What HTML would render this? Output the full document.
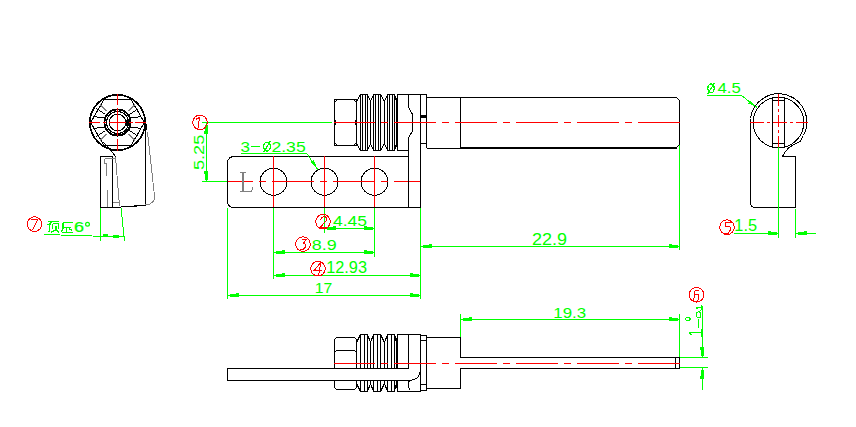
<!DOCTYPE html>
<html><head><meta charset="utf-8"><style>
html,body{margin:0;padding:0;background:#fff;width:856px;height:427px;overflow:hidden}
svg{display:block}
text{font-family:"Liberation Sans",sans-serif}
</style></head><body>
<svg width="856" height="427" viewBox="0 0 856 427" shape-rendering="crispEdges">
<rect width="856" height="427" fill="#fff"/>
<circle cx="117.5" cy="122.5" r="28" stroke="#000000" stroke-width="1" fill="none" />
<circle cx="117.5" cy="122.5" r="27.3" stroke="#000000" stroke-width="1" fill="none" />
<path d="M144.3 122.5 L130.9 145.7 L104.1 145.7 L90.7 122.5 L104.1 99.3 L130.9 99.3 Z" stroke="#000000" stroke-width="1" fill="none" />
<circle cx="117.5" cy="122.5" r="13.5" stroke="#000000" stroke-width="1" fill="none" />
<circle cx="117.5" cy="122.5" r="12.6" stroke="#000000" stroke-width="1" fill="none" />
<circle cx="117.5" cy="122.5" r="11" stroke="#000000" stroke-width="1" fill="none" />
<circle cx="117.5" cy="122.5" r="8.3" stroke="#000000" stroke-width="1" fill="none" />
<line x1="129.5" y1="114.5" x2="138.5" y2="108.5" stroke="#000000" stroke-width="1" />
<line x1="130.5" y1="118" x2="141.5" y2="116.5" stroke="#000000" stroke-width="1" />
<line x1="130.5" y1="127" x2="141.5" y2="128.5" stroke="#000000" stroke-width="1" />
<line x1="129.5" y1="130.5" x2="138.5" y2="136.5" stroke="#000000" stroke-width="1" />
<line x1="105.5" y1="114.5" x2="96.5" y2="108.5" stroke="#000000" stroke-width="1" />
<line x1="104.5" y1="118" x2="93.5" y2="116.5" stroke="#000000" stroke-width="1" />
<line x1="104.5" y1="127" x2="93.5" y2="128.5" stroke="#000000" stroke-width="1" />
<line x1="105.5" y1="130.5" x2="96.5" y2="136.5" stroke="#000000" stroke-width="1" />
<line x1="117.5" y1="93.5" x2="117.5" y2="105" stroke="#ff0000" stroke-width="1" />
<line x1="117.5" y1="108" x2="117.5" y2="135.5" stroke="#ff0000" stroke-width="1" />
<line x1="117.5" y1="138.5" x2="117.5" y2="151" stroke="#ff0000" stroke-width="1" />
<line x1="89" y1="122.5" x2="100" y2="122.5" stroke="#ff0000" stroke-width="1" />
<line x1="102.5" y1="122.5" x2="106" y2="122.5" stroke="#ff0000" stroke-width="1" />
<line x1="109" y1="122.5" x2="126" y2="122.5" stroke="#ff0000" stroke-width="1" />
<line x1="129" y1="122.5" x2="132.5" y2="122.5" stroke="#ff0000" stroke-width="1" />
<line x1="135" y1="122.5" x2="146" y2="122.5" stroke="#ff0000" stroke-width="1" />
<rect x="125.5" y="119.5" width="2" height="6" fill="#000000"/>
<line x1="128.5" y1="111" x2="135" y2="104.5" stroke="#808080" stroke-width="1" />
<line x1="128.5" y1="134" x2="135" y2="140.5" stroke="#808080" stroke-width="1" />
<line x1="106.5" y1="111" x2="100" y2="104.5" stroke="#808080" stroke-width="1" />
<line x1="106.5" y1="134" x2="100" y2="140.5" stroke="#808080" stroke-width="1" />
<path d="M100.5 156.5 L112.5 156.5 L112.5 207.5 L100.5 207.5 Z" stroke="#000000" stroke-width="1" fill="none" />
<path d="M112.5 207.5 L145.5 205.5 M125 206.5 L143.5 205.5" stroke="#000000" stroke-width="1" fill="none" />
<line x1="145.5" y1="124" x2="145.5" y2="205.5" stroke="#000000" stroke-width="1" />
<line x1="146.5" y1="124" x2="146.5" y2="130" stroke="#000000" stroke-width="1" />
<path d="M147.5 132 L154.5 196 Q155 204 145.5 205" stroke="#808080" stroke-width="1" fill="none" />
<path d="M104.5 158.5 L115.5 158.5 M104.5 158.5 L104.5 163.5 L106.5 163.5 L106.5 176 M107.5 190 L107.5 207 M115.5 157 L119.5 206 M112.5 202.5 L119.5 202.5" stroke="#808080" stroke-width="1" fill="none" />
<path d="M103 142 Q111 149 115.5 157" stroke="#000000" stroke-width="1" fill="none" />
<line x1="100.5" y1="207.5" x2="100.5" y2="241" stroke="#00ff00" stroke-width="1" />
<line x1="121" y1="207.5" x2="124.5" y2="241" stroke="#00ff00" stroke-width="1" />
<line x1="44" y1="234.5" x2="124.5" y2="237" stroke="#00ff00" stroke-width="1" />
<rect x="103" y="234" width="5" height="3" fill="#00ff00"/>
<rect x="113" y="234.5" width="6" height="3" fill="#00ff00"/>
<circle cx="34.5" cy="224.1" r="7.3" stroke="#ff0000" stroke-width="1" fill="none" />
<path d="M31.1 219.5 L37.6 219.5 L32.5 230.3 " stroke="#ff0000" stroke-width="1" fill="none" />
<path d="M48 221.5 L52 221.5 L49.5 224 M47 224.5 L51 224.5 M49.5 224.5 L49.5 231.5 L48 231.5 M51.5 221.5 L59 221.5 M52.7 223.5 L58.5 223.5 M52.7 223.5 L52.7 229 M58.5 223.5 L58.5 229 M56 225.5 L56 229.5 L51 232.5 M56.6 229.6 L58.8 232.5 M63 222.5 L72.8 222.5 M63 222.5 L63 228.7 L61.3 231.5 M63.4 227.2 L71.4 227.2 M66.5 227 L66.5 232 M62 232.5 L72.8 232.5 M69.3 228.7 L71.9 230.5" stroke="#00ff00" stroke-width="1.4" fill="none" />
<text transform="translate(74.10 231.55) scale(1.197 1)" font-size="15.07" fill="#00ff00" stroke="#00ff00" stroke-width="0.25" >6</text>
<circle cx="87.5" cy="224.2" r="1.9" stroke="#00ff00" stroke-width="1.2" fill="none" shape-rendering="auto"/>
<line x1="202" y1="122.5" x2="332" y2="122.5" stroke="#00ff00" stroke-width="1" />
<line x1="202" y1="181.5" x2="227.5" y2="181.5" stroke="#00ff00" stroke-width="1" />
<line x1="206.5" y1="122.5" x2="206.5" y2="181.5" stroke="#00ff00" stroke-width="1" />
<rect x="205.0" y="124.5" width="2.6" height="6" fill="#00ff00"/>
<rect x="204.0" y="130.5" width="4" height="3" fill="#00ff00"/>
<rect x="205.0" y="173.5" width="2.6" height="6" fill="#00ff00"/>
<rect x="204.0" y="170.5" width="4" height="3" fill="#00ff00"/>
<text transform="translate(204.35 170.02) rotate(-90) scale(1.225 1)" font-size="14.79" fill="#00ff00" >5.25</text>
<circle cx="200" cy="122.4" r="7.3" stroke="#ff0000" stroke-width="1" fill="none" />
<path d="M196.2 119.2 L199.6 117.4 L198.0 128.6 " stroke="#ff0000" stroke-width="1" fill="none" />
<path d="M408.5 156.5 L234.5 156.5 Q227.5 156.5 227.5 163.5 L227.5 200.5 Q227.5 207.5 234.5 207.5 L420.5 207.5" stroke="#000000" stroke-width="1" fill="none" />
<circle cx="273.5" cy="181.8" r="13.5" stroke="#000000" stroke-width="1" fill="none" />
<line x1="273.5" y1="156" x2="273.5" y2="207" stroke="#ff0000" stroke-width="1" />
<circle cx="324.5" cy="181.8" r="13.5" stroke="#000000" stroke-width="1" fill="none" />
<line x1="324.5" y1="156" x2="324.5" y2="207" stroke="#ff0000" stroke-width="1" />
<circle cx="374.5" cy="181.8" r="13.5" stroke="#000000" stroke-width="1" fill="none" />
<line x1="374.5" y1="156" x2="374.5" y2="207" stroke="#ff0000" stroke-width="1" />
<line x1="227.5" y1="181.5" x2="420.5" y2="181.5" stroke="#ff0000" stroke-width="1" stroke-dasharray="41.5 6 7.5 6" stroke-dashoffset="16.5"/>
<path d="M240 172.5 L246 172.5 M240 191.5 L251 191.5 L253 188 M252 189 L252.5 187.5" stroke="#808080" stroke-width="1" fill="none" />
<rect x="241.8" y="172.5" width="2" height="19" fill="#808080"/>
<text transform="translate(240.62 151.65) scale(1.151 1)" font-size="14.79" fill="#00ff00" >3</text>
<line x1="251" y1="146.5" x2="260" y2="146.5" stroke="#00ff00" stroke-width="1" />
<ellipse cx="267" cy="146.6" rx="3.4" ry="4.4" stroke="#00ff00" stroke-width="1.3" fill="none"/>
<line x1="263.5" y1="152.5" x2="270.5" y2="141" stroke="#00ff00" stroke-width="1.2" />
<text transform="translate(271.42 151.65) scale(1.192 1)" font-size="14.79" fill="#00ff00" >2.35</text>
<line x1="241" y1="153.5" x2="306.8" y2="153.5" stroke="#00ff00" stroke-width="1" />
<line x1="306.8" y1="153.5" x2="318" y2="170" stroke="#00ff00" stroke-width="1" />
<path d="M318 170 L310.5 162 L313.5 160 Z" fill="#00ff00"/>
<path d="M334.5 99.5 L356.5 99.5 L356.5 145.5 L334.5 145.5 Z" stroke="#000000" stroke-width="1" fill="none" />
<path d="M334.5 102.5 Q336 101.0 337.5 99.5 M353.5 99.5 Q355 101.0 356.5 102.5 M334.5 142.5 Q336 144.0 337.5 145.5 M353.5 145.5 Q355 144.0 356.5 142.5" stroke="#000000" stroke-width="1" fill="none" />
<path d="M334.5 119.5 Q336.5 122.5 334.5 125.5 M356.5 119.5 Q354.5 122.5 356.5 125.5" stroke="#000000" stroke-width="1" fill="none" />
<path d="M356.5 101.5 L360.5 94.5 M356.5 143.5 L360.5 150.5 M360.5 94.5 L367.5 94.5 L370.5 101.5 L373.5 94.5 M360.5 150.5 L367.5 150.5 L370.5 143.5 L373.5 150.5 M370.5 101.5 L370.5 143.5 M360.5 94.5 L360.5 150.5 M362.5 94.5 L362.5 150.5 M365.5 94.5 L365.5 150.5 M367.5 94.5 L367.5 150.5 M373.5 94.5 L380.5 94.5 L384.5 101.5 L387.5 94.5 M373.5 150.5 L380.5 150.5 L384.5 143.5 L387.5 150.5 M384.5 101.5 L384.5 143.5 M373.5 94.5 L373.5 150.5 M375.5 94.5 L375.5 150.5 M378.5 94.5 L378.5 150.5 M380.5 94.5 L380.5 150.5 M387.5 94.5 L394.5 94.5 L396.5 101.5 L397.5 94.5 M387.5 150.5 L394.5 150.5 L396.5 143.5 L397.5 150.5 M396.5 101.5 L396.5 143.5 M387.5 94.5 L387.5 150.5 M389.5 94.5 L389.5 150.5 M392.5 94.5 L392.5 150.5 M394.5 94.5 L394.5 150.5 " stroke="#000000" stroke-width="1" fill="none" />
<path d="M397.5 94.5 L426.5 94.5 L426.5 148 M397.5 94.5 L397.5 150.5 L408.5 150.5" stroke="#000000" stroke-width="1" fill="none" />
<path d="M408.5 94.5 L408.5 107 L412.5 114.5 L412.5 131 L408.5 138 L408.5 207.5" stroke="#000000" stroke-width="1" fill="none" />
<line x1="420.5" y1="94.5" x2="420.5" y2="207.5" stroke="#000000" stroke-width="1" />
<rect x="420.5" y="115" width="6" height="2.5" fill="#000000"/>
<line x1="420.5" y1="143.5" x2="426.5" y2="143.5" stroke="#000000" stroke-width="1" />
<path d="M426.5 97.5 L676.5 97.5 L679.5 100.5 L679.5 144.5 L676.5 147.5 L460.5 147.5 M460.5 148.5 L426.5 148.5" stroke="#000000" stroke-width="1" fill="none" />
<line x1="460.5" y1="97.5" x2="460.5" y2="148.5" stroke="#000000" stroke-width="1" />
<rect x="460.5" y="147" width="216" height="2" fill="#000000"/>
<line x1="333.5" y1="122.5" x2="680" y2="122.5" stroke="#ff0000" stroke-width="1" stroke-dasharray="41.5 6 7.5 6" stroke-dashoffset="0.5"/>
<line x1="227.5" y1="207.5" x2="227.5" y2="299" stroke="#00ff00" stroke-width="1" />
<line x1="273.5" y1="207.5" x2="273.5" y2="279" stroke="#00ff00" stroke-width="1" />
<line x1="324.5" y1="207.5" x2="324.5" y2="233" stroke="#00ff00" stroke-width="1" />
<line x1="374.5" y1="207.5" x2="374.5" y2="257" stroke="#00ff00" stroke-width="1" />
<line x1="420.5" y1="207.5" x2="420.5" y2="299" stroke="#00ff00" stroke-width="1" />
<line x1="679.5" y1="145" x2="679.5" y2="250" stroke="#00ff00" stroke-width="1" />
<line x1="324.5" y1="228.5" x2="374.5" y2="228.5" stroke="#00ff00" stroke-width="1" />
<rect x="326.5" y="227.0" width="6" height="2.6" fill="#00ff00"/>
<rect x="332.5" y="226.0" width="3" height="4" fill="#00ff00"/>
<rect x="366.5" y="227.0" width="6" height="2.6" fill="#00ff00"/>
<rect x="363.5" y="226.0" width="3" height="4" fill="#00ff00"/>
<text transform="translate(333.05 226.45) scale(1.197 1)" font-size="14.57" fill="#00ff00" >4.45</text>
<circle cx="323" cy="221.7" r="7.3" stroke="#ff0000" stroke-width="1" fill="none" />
<path d="M320.5 219.7 L321.5 217.7 L323.5 216.9 L325.5 216.9 L326.8 218.2 L326.5 220.2 L319.8 227.9 L325.8 227.9 " stroke="#ff0000" stroke-width="1" fill="none" />
<line x1="273.5" y1="252.5" x2="374.5" y2="252.5" stroke="#00ff00" stroke-width="1" />
<rect x="275.5" y="251.0" width="6" height="2.6" fill="#00ff00"/>
<rect x="281.5" y="250.0" width="3" height="4" fill="#00ff00"/>
<rect x="366.5" y="251.0" width="6" height="2.6" fill="#00ff00"/>
<rect x="363.5" y="250.0" width="3" height="4" fill="#00ff00"/>
<text transform="translate(311.78 250.36) scale(1.260 1)" font-size="14.23" fill="#00ff00" >8.9</text>
<circle cx="303" cy="244.1" r="7.3" stroke="#ff0000" stroke-width="1" fill="none" />
<path d="M302.1 239.5 L306.5 239.5 L303.2 243.5 L305.6 244.2 L305.6 246.8 L302.8 250.0 L299.5 249.7 " stroke="#ff0000" stroke-width="1" fill="none" />
<line x1="273.5" y1="275.5" x2="420.5" y2="275.5" stroke="#00ff00" stroke-width="1" />
<rect x="275.5" y="274.0" width="6" height="2.6" fill="#00ff00"/>
<rect x="281.5" y="273.0" width="3" height="4" fill="#00ff00"/>
<rect x="412.5" y="274.0" width="6" height="2.6" fill="#00ff00"/>
<rect x="409.5" y="273.0" width="3" height="4" fill="#00ff00"/>
<text transform="translate(326.20 273.34) scale(1.015 1)" font-size="16.06" fill="#00ff00" >12.93</text>
<circle cx="318" cy="268.7" r="7.3" stroke="#ff0000" stroke-width="1" fill="none" />
<path d="M320.9 262.4 L314.2 270.4 L321.9 270.4 M320.9 262.4 L318.6 275.5 " stroke="#ff0000" stroke-width="1" fill="none" />
<line x1="227.5" y1="295.5" x2="420.5" y2="295.5" stroke="#00ff00" stroke-width="1" />
<rect x="229.5" y="294.0" width="6" height="2.6" fill="#00ff00"/>
<rect x="235.5" y="293.0" width="3" height="4" fill="#00ff00"/>
<rect x="412.5" y="294.0" width="6" height="2.6" fill="#00ff00"/>
<rect x="409.5" y="293.0" width="3" height="4" fill="#00ff00"/>
<text transform="translate(314.63 293.40) scale(1.030 1)" font-size="15.36" fill="#00ff00" >17</text>
<line x1="420.5" y1="246.5" x2="679.5" y2="246.5" stroke="#00ff00" stroke-width="1" />
<rect x="422.5" y="245.0" width="6" height="2.6" fill="#00ff00"/>
<rect x="428.5" y="244.0" width="3" height="4" fill="#00ff00"/>
<rect x="671.5" y="245.0" width="6" height="2.6" fill="#00ff00"/>
<rect x="668.5" y="244.0" width="3" height="4" fill="#00ff00"/>
<text transform="translate(532.00 244.73) scale(1.074 1)" font-size="16.76" fill="#00ff00" >22.9</text>
<circle cx="778.5" cy="122.5" r="25.3" stroke="#000000" stroke-width="1" fill="none" />
<path d="M750.5 118.5 A28.3 28.3 0 1 1 803.5 135.5 L800 141.5 Q786 147 782.5 156.5 L795.5 156.5 L795.5 207.5 L755.5 207.5 Q750.5 207.5 750.5 202.5 L750.5 118.5" stroke="#000000" stroke-width="1" fill="none" />
<path d="M772.5 97.5 L772.5 146.5 M784.5 97.5 L784.5 146.5 M772.5 100.5 L784.5 100.5 M772.5 143.5 L784.5 143.5" stroke="#000000" stroke-width="1" fill="none" />
<line x1="778.5" y1="93.5" x2="778.5" y2="148.5" stroke="#ff0000" stroke-width="1" stroke-dasharray="12 3 3 3"/>
<line x1="750" y1="122.5" x2="807.5" y2="122.5" stroke="#ff0000" stroke-width="1" stroke-dasharray="14 3 3 3"/>
<line x1="778.5" y1="147" x2="778.5" y2="238" stroke="#00ff00" stroke-width="1" />
<line x1="795.5" y1="208.5" x2="795.5" y2="238" stroke="#00ff00" stroke-width="1" />
<line x1="734" y1="233.5" x2="778.5" y2="233.5" stroke="#00ff00" stroke-width="1" />
<rect x="770.5" y="232.0" width="6" height="2.6" fill="#00ff00"/>
<rect x="767.5" y="231.0" width="3" height="4" fill="#00ff00"/>
<line x1="795.5" y1="233.5" x2="816" y2="233.5" stroke="#00ff00" stroke-width="1" />
<rect x="797.5" y="232.0" width="6" height="2.6" fill="#00ff00"/>
<rect x="803.5" y="231.0" width="3" height="4" fill="#00ff00"/>
<circle cx="727" cy="227.2" r="7.3" stroke="#ff0000" stroke-width="1" fill="none" />
<path d="M731.5 222.4 L726.0 222.4 L725.3 226.8 L729.9 226.3 L730.7 229.4 L728.4 233.0 L724.2 233.0 " stroke="#ff0000" stroke-width="1" fill="none" />
<text transform="translate(734.29 231.14) scale(1.052 1)" font-size="15.57" fill="#00ff00" >1.5</text>
<ellipse cx="711" cy="88.4" rx="3.2" ry="4.4" stroke="#00ff00" stroke-width="1.3" fill="none"/>
<line x1="707.5" y1="94" x2="714.5" y2="83" stroke="#00ff00" stroke-width="1.2" />
<text transform="translate(717.56 93.35) scale(1.139 1)" font-size="14.71" fill="#00ff00" >4.5</text>
<line x1="707" y1="95.5" x2="741.5" y2="95.5" stroke="#00ff00" stroke-width="1" />
<line x1="741.5" y1="95.5" x2="757" y2="107.5" stroke="#00ff00" stroke-width="1" />
<path d="M757 107.5 L748.5 103.5 L750.5 100.5 Z" fill="#00ff00"/>
<path d="M336.5 337.5 L354.5 337.5 L356.5 339.5 L356.5 387.5 L354.5 389.5 L336.5 389.5 L334.5 387.5 L334.5 339.5 Z" stroke="#000000" stroke-width="1" fill="none" />
<path d="M334.5 352.5 L336.5 350.5 L354.5 350.5 L356.5 352.5" stroke="#000000" stroke-width="1" fill="none" />
<path d="M356.5 342.5 L360.5 334.5 M356.5 383.5 L360.5 391.5 M360.5 334.5 L367.5 334.5 L370.5 342.5 L373.5 334.5 M360.5 391.5 L367.5 391.5 L370.5 383.5 L373.5 391.5 M370.5 342.5 L370.5 383.5 M360.5 334.5 L360.5 391.5 M364.5 334.5 L364.5 391.5 M367.5 334.5 L367.5 391.5 M373.5 334.5 L380.5 334.5 L384.5 342.5 L387.5 334.5 M373.5 391.5 L380.5 391.5 L384.5 383.5 L387.5 391.5 M384.5 342.5 L384.5 383.5 M373.5 334.5 L373.5 391.5 M377.5 334.5 L377.5 391.5 M380.5 334.5 L380.5 391.5 M387.5 334.5 L394.5 334.5 L396.5 342.5 L397.5 334.5 M387.5 391.5 L394.5 391.5 L396.5 383.5 L397.5 391.5 M396.5 342.5 L396.5 383.5 M387.5 334.5 L387.5 391.5 M391.5 334.5 L391.5 391.5 M394.5 334.5 L394.5 391.5 " stroke="#000000" stroke-width="1" fill="none" />
<path d="M397.5 334.5 L420.5 334.5 L420.5 391.5 L397.5 391.5 Z" stroke="#000000" stroke-width="1" fill="none" />
<line x1="408.5" y1="334.5" x2="408.5" y2="368.5" stroke="#000000" stroke-width="1" />
<path d="M420.5 335.5 L426.5 335.5 L426.5 390.5 L420.5 390.5 M420.5 340.5 L426.5 340.5 M420.5 384.5 L426.5 384.5" stroke="#000000" stroke-width="1" fill="none" />
<path d="M426.5 337.5 L460.5 337.5 L460.5 357.5 L679.5 357.5 L679.5 368.5 L460.5 368.5 L460.5 388.5 L426.5 388.5" stroke="#000000" stroke-width="1" fill="none" />
<line x1="675.5" y1="357.5" x2="675.5" y2="368.5" stroke="#000000" stroke-width="1" />
<rect x="228" y="369" width="180" height="11" fill="#fff"/>
<rect x="408" y="369" width="12" height="2" fill="#fff"/>
<path d="M408.5 368.5 L227.5 368.5 L227.5 380.5 L410.5 380.5 Q419.5 379.5 420.5 370.5" stroke="#000000" stroke-width="1" fill="none" />
<path d="M409.5 380.5 Q406.5 385 410.5 390.5" stroke="#000000" stroke-width="1" fill="none" />
<line x1="333.5" y1="363.5" x2="680" y2="363.5" stroke="#ff0000" stroke-width="1" stroke-dasharray="41.5 6 7.5 6" stroke-dashoffset="0.5"/>
<line x1="460.5" y1="314" x2="460.5" y2="337" stroke="#00ff00" stroke-width="1" />
<line x1="679.5" y1="314" x2="679.5" y2="357" stroke="#00ff00" stroke-width="1" />
<line x1="460.5" y1="319.5" x2="679.5" y2="319.5" stroke="#00ff00" stroke-width="1" />
<rect x="462.5" y="318.0" width="6" height="2.6" fill="#00ff00"/>
<rect x="468.5" y="317.0" width="3" height="4" fill="#00ff00"/>
<rect x="671.5" y="318.0" width="6" height="2.6" fill="#00ff00"/>
<rect x="668.5" y="317.0" width="3" height="4" fill="#00ff00"/>
<text transform="translate(553.35 317.75) scale(1.099 1)" font-size="15.35" fill="#00ff00" >19.3</text>
<line x1="680" y1="357.5" x2="708" y2="357.5" stroke="#00ff00" stroke-width="1" />
<line x1="680" y1="367.5" x2="708" y2="367.5" stroke="#00ff00" stroke-width="1" />
<line x1="702.5" y1="306" x2="702.5" y2="357.5" stroke="#00ff00" stroke-width="1" />
<rect x="701.0" y="349.5" width="2.6" height="6" fill="#00ff00"/>
<rect x="700.0" y="346.5" width="4" height="3" fill="#00ff00"/>
<line x1="702.5" y1="367.5" x2="702.5" y2="390" stroke="#00ff00" stroke-width="1" />
<rect x="701.0" y="369.5" width="2.6" height="6" fill="#00ff00"/>
<rect x="700.0" y="375.5" width="4" height="3" fill="#00ff00"/>
<circle cx="696.5" cy="294.8" r="7.3" stroke="#ff0000" stroke-width="1" fill="none" />
<path d="M699.4 290.4 L695.1 290.4 L693.5 301.0 L697.9 301.0 L698.9 294.8 L693.8 294.8 " stroke="#ff0000" stroke-width="1" fill="none" />
<path d="M689.5 332.5 L701.5 332.5 M701.5 328.5 L701.5 336.5 M689.5 332.5 L691.5 335.5" stroke="#00ff00" stroke-width="1.2" fill="none" />
<path d="M698.5 319 L698.5 327.5" stroke="#00ff00" stroke-width="1.2" fill="none" />
<ellipse cx="698.6" cy="314.8" rx="2.4" ry="2.9" stroke="#00ff00" stroke-width="1.1" fill="none"/>
<path d="M700.5 310.5 L701.5 311.5" stroke="#00ff00" stroke-width="1.2" fill="none" />
<path d="M696 307.5 L701.5 307.5 M701.5 305 L701.5 310 M696 307.5 L697.5 309" stroke="#00ff00" stroke-width="1.1" fill="none" />
<ellipse cx="687.9" cy="319" rx="2.2" ry="1.8" stroke="#00ff00" stroke-width="1.1" fill="none"/>
</svg></body></html>
